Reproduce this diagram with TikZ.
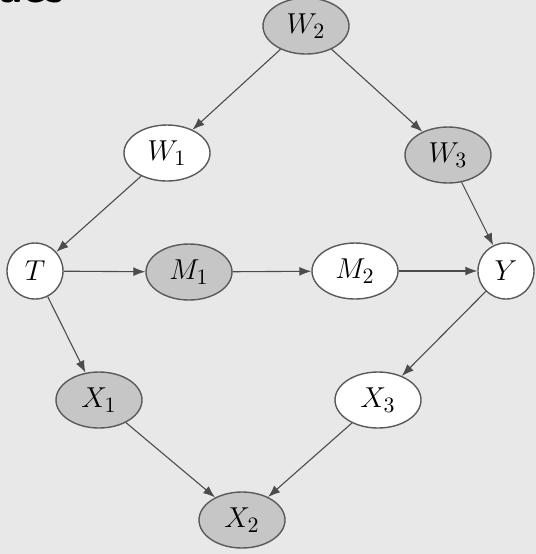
\documentclass[tikz,border=0pt]{standalone}
\usetikzlibrary{arrows.meta,shapes.geometric}
\definecolor{bg}{HTML}{E8E8E8}
\definecolor{shade}{HTML}{C6C6C6}
\definecolor{edge}{HTML}{5A5A5A}
\begin{document}
\begin{tikzpicture}[x=0.5pt,y=-0.5pt,
  var/.style={ellipse,draw=edge,line width=0.7pt,fill=white,minimum width=43pt,minimum height=28pt,inner sep=0pt,font=\fontsize{15.5}{18}\selectfont},
  obs/.style={var,fill=shade},
  circ/.style={var,minimum width=28pt,minimum height=28pt},
  arr/.style={draw=edge!85!black,line width=0.55pt,-{Latex[length=6pt,width=4.5pt]}}]
\fill[bg] (0,0) rectangle (536,554);
\useasboundingbox (0,0) rectangle (536,554);
\node[anchor=base west,font=\fontsize{22}{24}\selectfont\bfseries\sffamily,inner sep=0pt] (frag) at (-2,2) {ues};
\node[obs] (W2) at (306,26) {$W_2$};
\node[var] (W1) at (167,153) {$W_1$};
\node[obs] (W3) at (448,155) {$W_3$};
\node[circ] (T) at (35,271) {$T$};
\node[obs] (M1) at (189,272) {$M_1$};
\node[var] (M2) at (355,271) {$M_2$};
\node[circ] (Y) at (506,271) {$Y$};
\node[obs] (X1) at (99,400) {$X_1$};
\node[var] (X3) at (378,400) {$X_3$};
\node[obs] (X2) at (242,520) {$X_2$};
\draw[arr] (W2) -- (W1);
\draw[arr] (W2) -- (W3);
\draw[arr] (W1) -- (T);
\draw[arr] (W3) -- (Y);
\draw[arr] (T) -- (M1);
\draw[arr] (M1) -- (M2);
\draw[arr] (M2) -- (Y);
\draw[arr] (T) -- (X1);
\draw[arr] (Y) -- (X3);
\draw[arr] (X1) -- (X2);
\draw[arr] (X3) -- (X2);
\end{tikzpicture}
\end{document}
